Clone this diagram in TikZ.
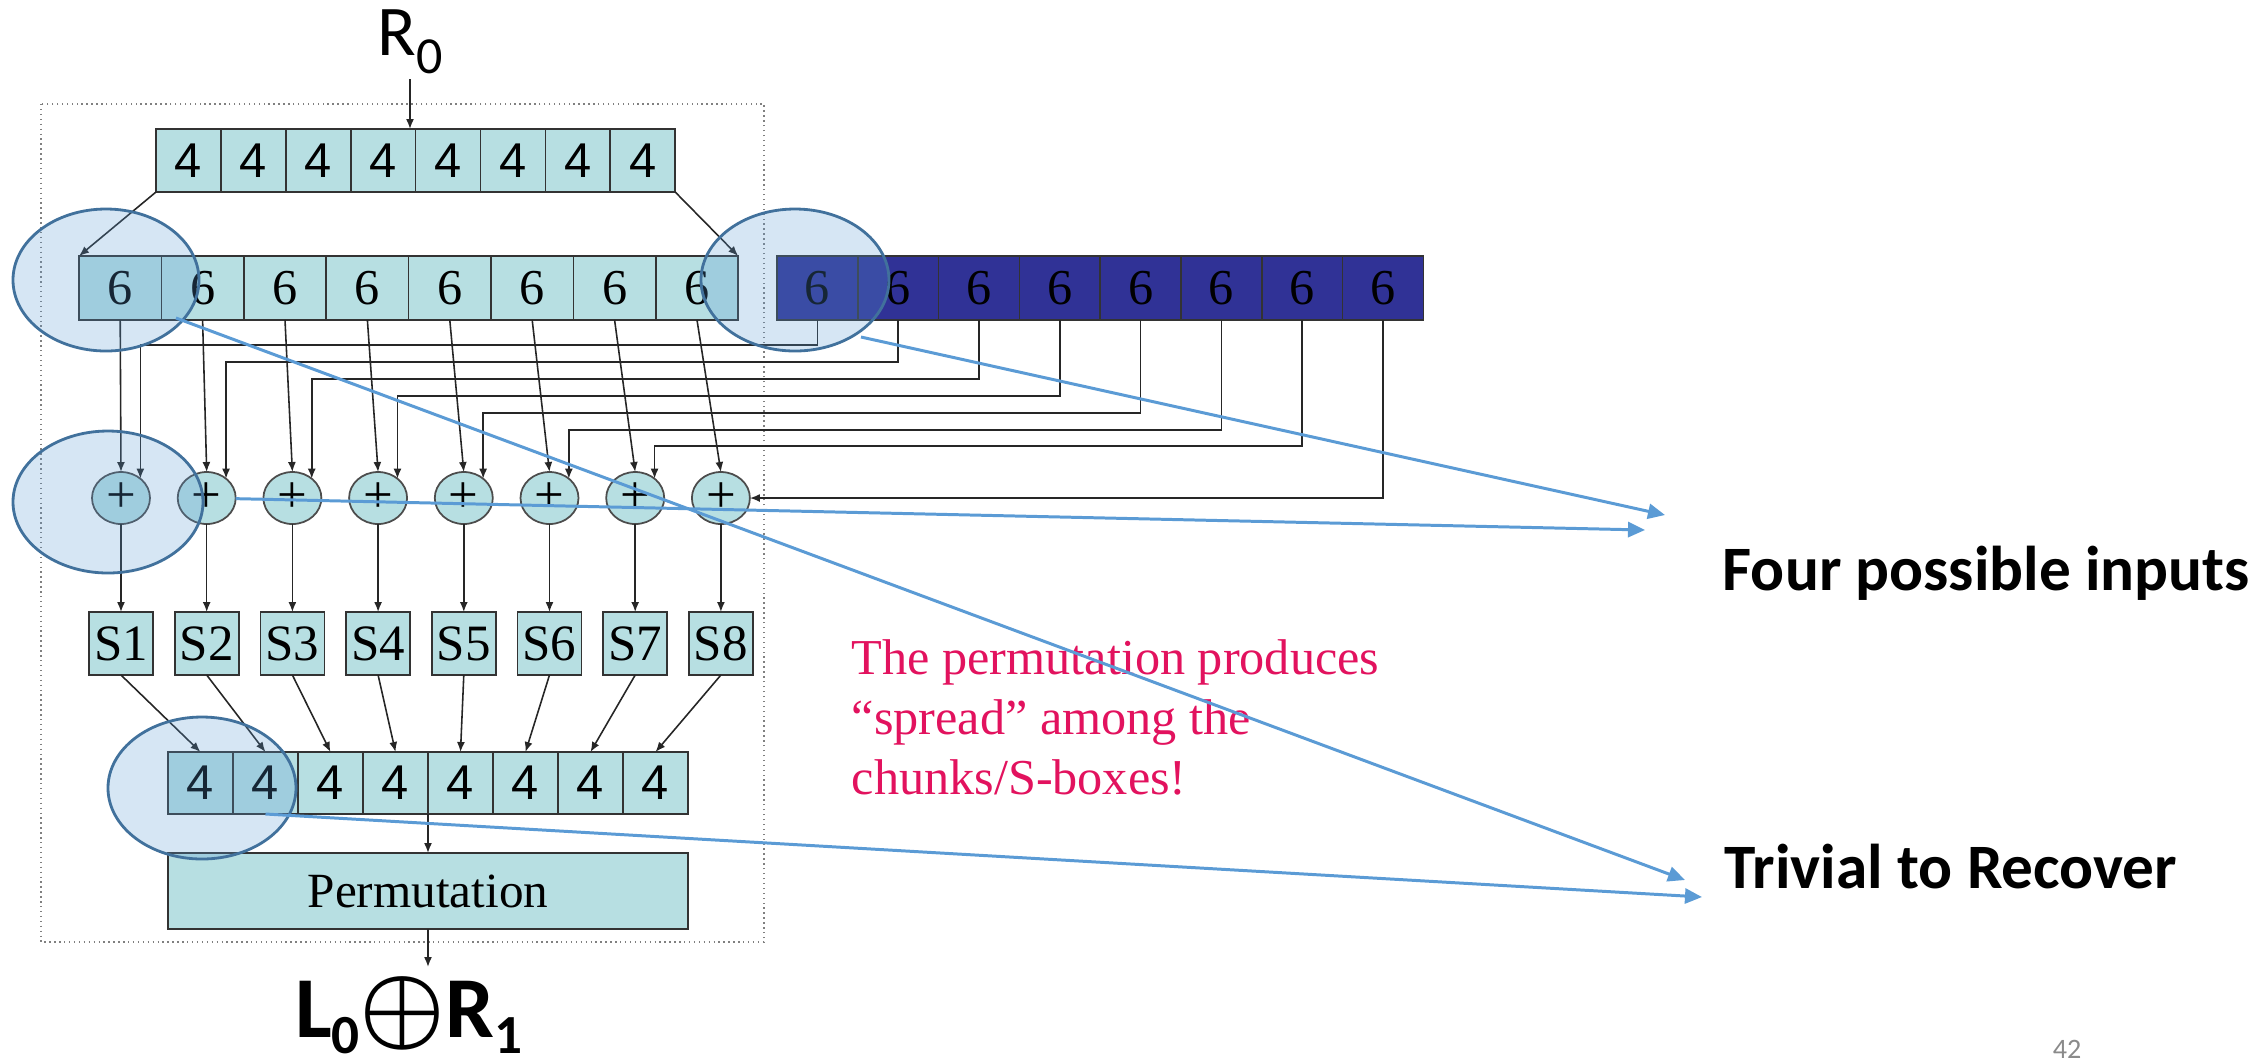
\documentclass[tikz,border=0pt]{standalone}
\usepackage{fontspec}
\setmainfont{Liberation Serif}
\newfontfamily\calibri{Carlito}
\newfontfamily\arialfont{Liberation Sans}
\usepackage{tikz}
\usetikzlibrary{arrows.meta, shapes.geometric}

\definecolor{cellfill}{RGB}{183,223,226}
\definecolor{darkcell}{RGB}{48,50,150}
\definecolor{ringfill}{RGB}{91,155,213}
\definecolor{ringedge}{RGB}{65,113,156}
\definecolor{calloutblue}{RGB}{91,155,213}
\definecolor{notered}{RGB}{226,18,94}
\definecolor{pagegray}{RGB}{138,138,138}

\begin{document}
\begin{tikzpicture}[x=0.1mm, y=-0.1mm,
  cell/.style={draw=black!80, fill=cellfill, line width=0.5pt, inner sep=0pt, outer sep=0pt, minimum height=6.3mm},
  four/.style={cell, minimum width=6.49mm, font=\arialfont\fontsize{13.9pt}{16pt}\selectfont},
  six/.style={cell, minimum width=8.24mm, minimum height=6.4mm, font=\fontsize{14.3pt}{16pt}\selectfont},
  darksix/.style={six, fill=darkcell, minimum width=8.08mm},
  xorgate/.style={ellipse, draw=black!70, fill=cellfill, line width=0.5pt, inner sep=0pt, outer sep=0pt,
    minimum width=5.8mm, minimum height=5.2mm, font=\fontsize{15pt}{16pt}\selectfont},
  sbox/.style={cell, minimum width=6.4mm, font=\fontsize{14.5pt}{16pt}\selectfont},
  wire/.style={draw=black!85, line width=0.45pt, -{Latex[length=1mm,width=0.8mm]}},
  ring/.style={draw=ringedge, line width=0.8pt, fill=ringfill, fill opacity=0.25},
  callout/.style={draw=calloutblue, line width=0.85pt, -{Triangle[length=1.7mm,width=1.5mm]}},
  bigtext/.style={font=\calibri\bfseries\fontsize{18pt}{21pt}\selectfont, inner sep=0pt}
]
  \useasboundingbox (0,0) rectangle (2263,1063);

  % Round frame
  \draw[gray, densely dotted, line width=0.4pt] (41,104) rectangle (764,942);

  % Input half and expansion
  \node[anchor=base, inner sep=1.5pt] (r0) at (410,55)
    {\calibri\fontsize{20.3pt}{24pt}\selectfont R\raisebox{-1.8mm}{\fontsize{14.8pt}{17pt}\selectfont 0}};

  \foreach \i in {1,...,8} {
    \node[four] (t4-\i) at ({188.45+64.9*(\i-1)}, 160.5) {4};
    \node[six] (l6-\i) at ({120.2+82.4*(\i-1)}, 288) {6};
    \node[darksix] (d6-\i) at ({817.4+80.8*(\i-1)}, 288) {6};
    \node[xorgate] (xor-\i) at ({121+85.7*(\i-1)}, 498) {+};
    \node[sbox] (s-\i) at ({121+85.7*(\i-1)}, 643.5) {S\i};
    \node[four, minimum width=6.5mm, minimum height=6.2mm] (b4-\i) at ({200.5+65*(\i-1)}, 783) {4};
  }

  % Permutation and output
  \node[cell, minimum width=52mm, minimum height=7.6mm, font=\fontsize{14pt}{16pt}\selectfont] (perm) at (428,891) {Permutation};
  \node[anchor=base, inner sep=0pt] (out) at (409,1037)
    {\calibri\bfseries\fontsize{24.7pt}{28pt}\selectfont L\raisebox{-1.6mm}{\fontsize{15.7pt}{18pt}\selectfont 0}\scalebox{1.1}{\boldmath$\oplus$}R\raisebox{-1.6mm}{\fontsize{15.7pt}{18pt}\selectfont 1}};

  % Wires
  \draw[wire] (r0.south) -- (r0.south |- t4-5.north);
  \draw[wire] (t4-1.south west) -- (l6-1.north west);
  \draw[wire] (t4-8.south east) -- (l6-8.north east);
  \foreach \i in {1,...,8} {
    \draw[wire] (l6-\i.south) -- (xor-\i.north);
    \draw[wire] (xor-\i.south) -- (s-\i.north);
    \draw[wire] (s-\i.south) -- (b4-\i.north);
  }
  \foreach \i/\lvl in {1/345, 2/362, 3/379, 4/396, 5/413, 6/430, 7/446}
    \draw[wire] (d6-\i.south) -- (d6-\i.south |- 0,\lvl) -| (xor-\i.45);
  \draw[wire] (d6-8.south) |- (xor-8.east);
  \draw[wire] (perm.north |- b4-4.south) -- (perm.north);
  \draw[wire] (perm.south) -- (perm.south |- 0,967);

  % Highlight rings
  \draw[ring] (106,280) ellipse [x radius=9.3mm, y radius=7.1mm];
  \draw[ring] (795,280) ellipse [x radius=9.4mm, y radius=7.1mm];
  \draw[ring] (108,502) ellipse [x radius=9.5mm, y radius=7.1mm];
  \draw[ring] (202,788) ellipse [x radius=9.4mm, y radius=7.1mm];

  % Notes
  \node[anchor=north west, align=left, inner sep=0pt, text=notered, font=\fontsize{14.3pt}{17pt}\selectfont] (note) at (851,639)
    {The permutation produces\\“spread” among the\\chunks/S-boxes!};
  \node[bigtext, anchor=base west] (four) at (1722,590) {Four possible inputs};
  \node[bigtext, anchor=base west] (trivial) at (1724,888) {Trivial to Recover};
  \node[anchor=base, inner sep=0pt, text=pagegray, font=\calibri\fontsize{8pt}{9pt}\selectfont] (pagenum) at (2067,1058) {42};

  % Callout arrows
  \coordinate (a-from) at (176,318);
  \coordinate (a-to) at (1685,880);
  \coordinate (b-from) at (861,337);
  \coordinate (b-to) at (1665,515);
  \coordinate (c-to) at (1645,530);
  \coordinate (d-to) at (1702,897);
  \draw[callout] (a-from) -- (a-to);
  \draw[callout] (b-from) -- (b-to);
  \draw[callout] (xor-2) -- (c-to);
  \draw[callout] (b4-2.south) -- (d-to);
\end{tikzpicture}
\end{document}
